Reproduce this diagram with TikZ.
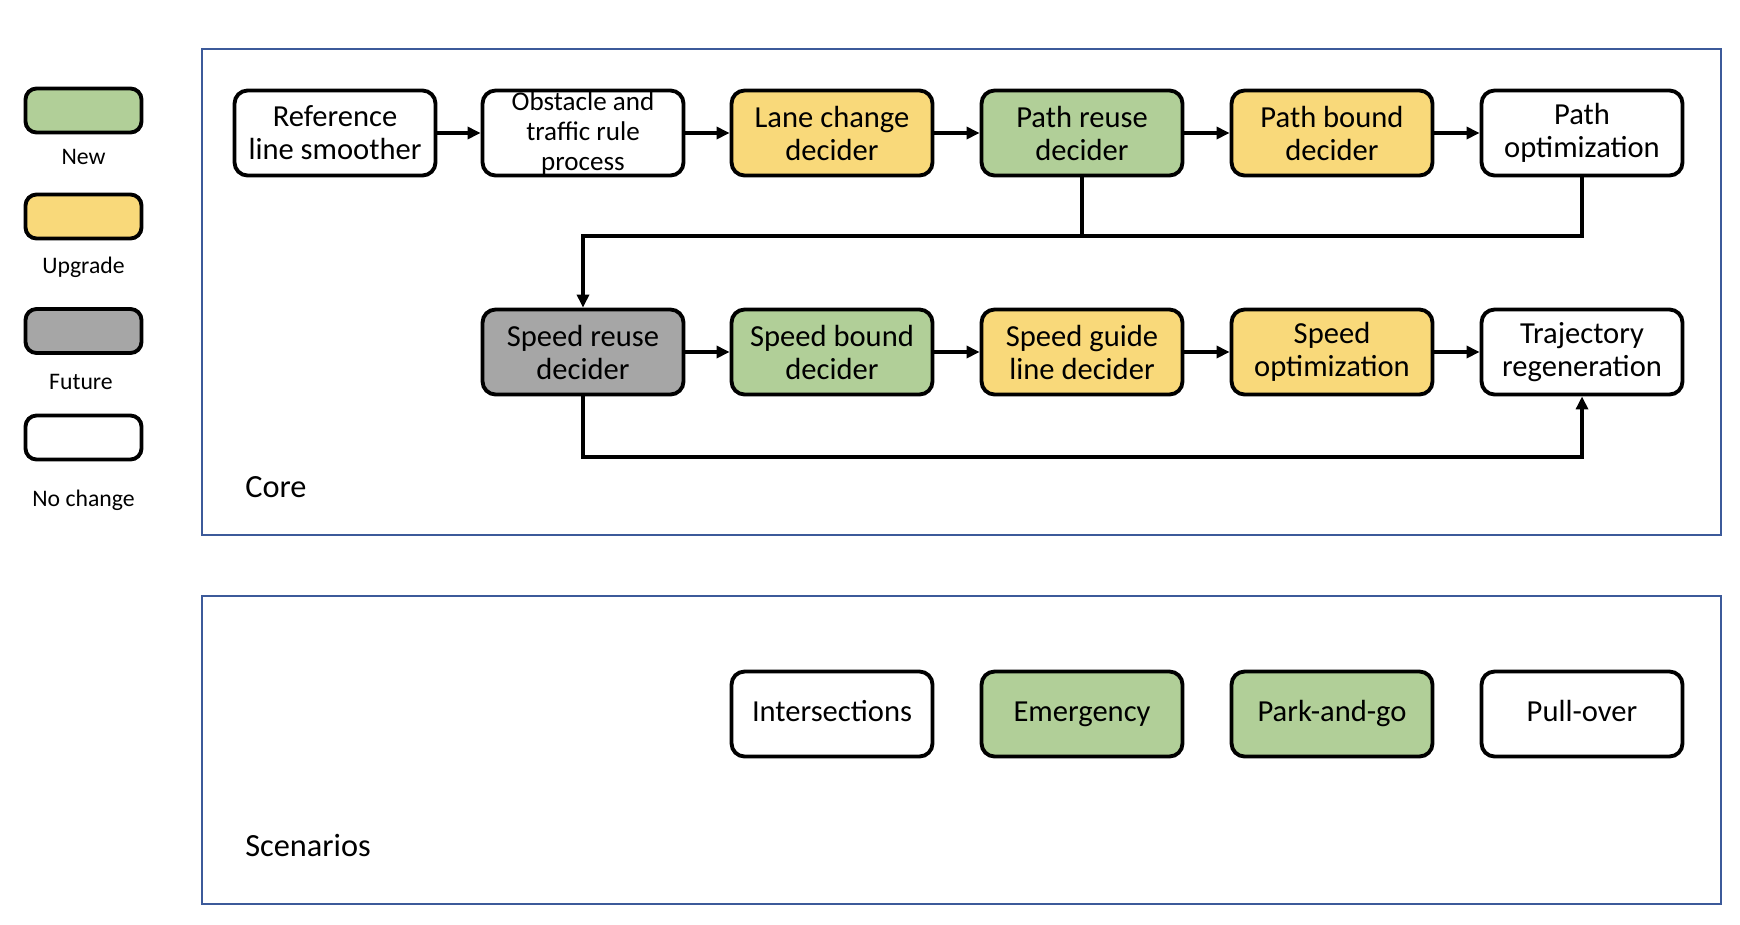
\documentclass[tikz,border=0pt]{standalone}
\usepackage{fontspec}
\setmainfont{Carlito}
\usetikzlibrary{arrows.meta}

\definecolor{newgreen}{HTML}{B1CF98}
\definecolor{upyellow}{HTML}{F9D97A}
\definecolor{futgray}{HTML}{A6A6A6}
\definecolor{frameblue}{HTML}{3C5A9A}

\begin{document}
\begin{tikzpicture}[x=0.02cm,y=-0.02cm,
	box/.style={draw,line width=2.2pt,rounded corners=0.26cm,minimum width=4.02cm,minimum height=1.7cm,inner sep=0pt,align=center,font=\fontsize{17.4}{18.8}\selectfont},
	newbox/.style={box,fill=newgreen},
	upbox/.style={box,fill=upyellow},
	futbox/.style={box,fill=futgray},
	onerow/.style={text height=12.6pt,text depth=4.2pt},
	keybox/.style={draw,line width=2.2pt,rounded corners=0.22cm,minimum width=2.32cm,minimum height=0.88cm,inner sep=0pt},
	keytext/.style={font=\fontsize{13.5}{14}\selectfont},
	flow/.style={line width=1.9pt,-{Triangle[length=0.26cm,width=0.24cm]}},
	link/.style={line width=1.9pt},
	frame/.style={draw=frameblue,line width=0.9pt},
	title/.style={anchor=west,inner sep=0pt,font=\fontsize{18.4}{19}\selectfont}]
		\useasboundingbox (0,0) rectangle (1740,924);
		\draw [frame] (202,49) rectangle (1721,535); % core
		\draw [frame] (202,596) rectangle (1721,904); % scenarios

		% legend
		\node [keybox,fill=newgreen] (knew) at (83.5,110.5) {};
		\node [keytext] (lnew) at (83.5,157) {New};
		\node [keybox,fill=upyellow] (kup) at (83.5,216.5) {};
		\node [keytext] (lup) at (83.5,267) {Upgrade};
		\node [keybox,fill=futgray] (kfut) at (83.5,331) {};
		\node [keytext] (lfut) at (81,382) {Future};
		\node [keybox] (kno) at (83.5,437.5) {};
		\node [keytext] (lno) at (83.5,500) {No change};

		% path row
		\node [box] (refline) at (335,133) {Reference\\line smoother};
		\node [box,font=\fontsize{15.4}{17}\selectfont] (obstacle) at (583,133) {Obstacle and\\traffic rule\\process};
		\node [upbox] (lanechange) at (832,133) {Lane change\\decider};
		\node [newbox] (pathreuse) at (1082,133) {Path reuse\\decider};
		\node [upbox] (pathbound) at (1332,133) {Path bound\\decider};
		\node [box] (pathopt) at (1582,133) {Path\\optimization};

		% speed row
		\node [futbox] (speedreuse) at (583,352) {Speed reuse\\decider};
		\node [newbox] (speedbound) at (832,352) {Speed bound\\decider};
		\node [upbox] (guideline) at (1082,352) {Speed guide\\line decider};
		\node [upbox] (speedopt) at (1332,352) {Speed\\optimization};
		\node [box] (trajregen) at (1582,352) {Trajectory\\regeneration};

		\draw [flow] (refline) -- (obstacle);
		\draw [flow] (obstacle) -- (lanechange);
		\draw [flow] (lanechange) -- (pathreuse);
		\draw [flow] (pathreuse) -- (pathbound);
		\draw [flow] (pathbound) -- (pathopt);
		\draw [flow] (speedreuse) -- (speedbound);
		\draw [flow] (speedbound) -- (guideline);
		\draw [flow] (guideline) -- (speedopt);
		\draw [flow] (speedopt) -- (trajregen);

		\coordinate (upjoin) at (583,236);
		\coordinate (lowjoin) at (583,457);
		\draw [flow] (pathopt.south) |- (upjoin) -- (speedreuse.north);
		\draw [link] (pathreuse.south) -- (pathreuse.south |- upjoin);
		\draw [flow] (speedreuse.south) -- (lowjoin) -| (trajregen.south);

		\node [title] (core) at (245,487) {Core};

		% scenarios
		\node [box,onerow] (inter) at (832,714) {Intersections};
		\node [newbox,onerow] (emerg) at (1082,714) {Emergency};
		\node [newbox,onerow] (parkgo) at (1332,714) {Park-and-go};
		\node [box,onerow] (pullover) at (1582,714) {Pull-over};
		\node [title] (scen) at (245,845) {Scenarios};
\end{tikzpicture}
\end{document}
